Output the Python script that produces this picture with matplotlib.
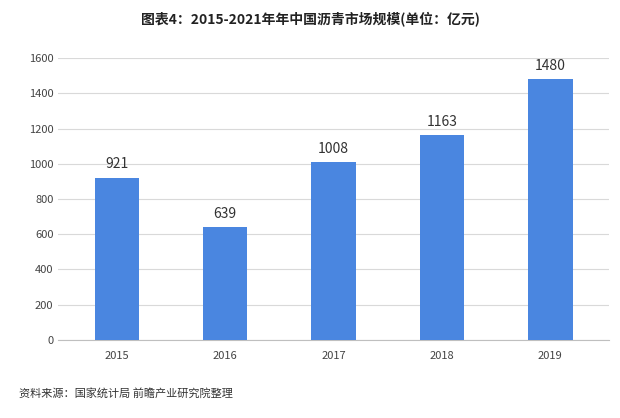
import matplotlib
matplotlib.use("Agg")
import matplotlib.pyplot as plt

plt.rcParams['font.family'] = ['Noto Sans CJK SC', 'DejaVu Sans']

years = ["2015", "2016", "2017", "2018", "2019"]
values = [921, 639, 1008, 1163, 1480]
yticks = [0, 200, 400, 600, 800, 1000, 1200, 1400, 1600]

fig = plt.figure(figsize=(6.2, 4.18), dpi=100)
ax = fig.add_axes([0.094, 0.187, 0.888, 0.674])
x = list(range(len(years)))
ax.bar(x, values, width=0.41, color="#4A86E0", zorder=3)
for xi, v in zip(x, values):
    ax.text(xi, v + 35, str(v), ha="center", va="bottom", fontsize=10, color="#333333")
ax.set_xlim(-0.54, 4.54)
ax.set_ylim(0, 1600)
ax.set_yticks(yticks)
ax.set_xticks(x)
ax.set_xticklabels(years)
ax.tick_params(axis="both", length=0, labelsize=8, colors="#444444")
ax.tick_params(axis="x", pad=8)
ax.grid(axis="y", color="#d9d9d9", linewidth=0.8, zorder=0)
for s in ["top", "right", "left"]:
    ax.spines[s].set_visible(False)
ax.spines["bottom"].set_color("#bfbfbf")
fig.text(0.5, 0.955, "图表4：2015-2021年年中国沥青市场规模(单位：亿元)", ha="center", va="center",
         fontsize=10, fontweight="bold", color="#222222")
fig.text(0.03, 0.058, "资料来源：国家统计局 前瞻产业研究院整理", ha="left", va="center",
         fontsize=8, color="#333333")
fig.savefig("out.png", dpi=100)
